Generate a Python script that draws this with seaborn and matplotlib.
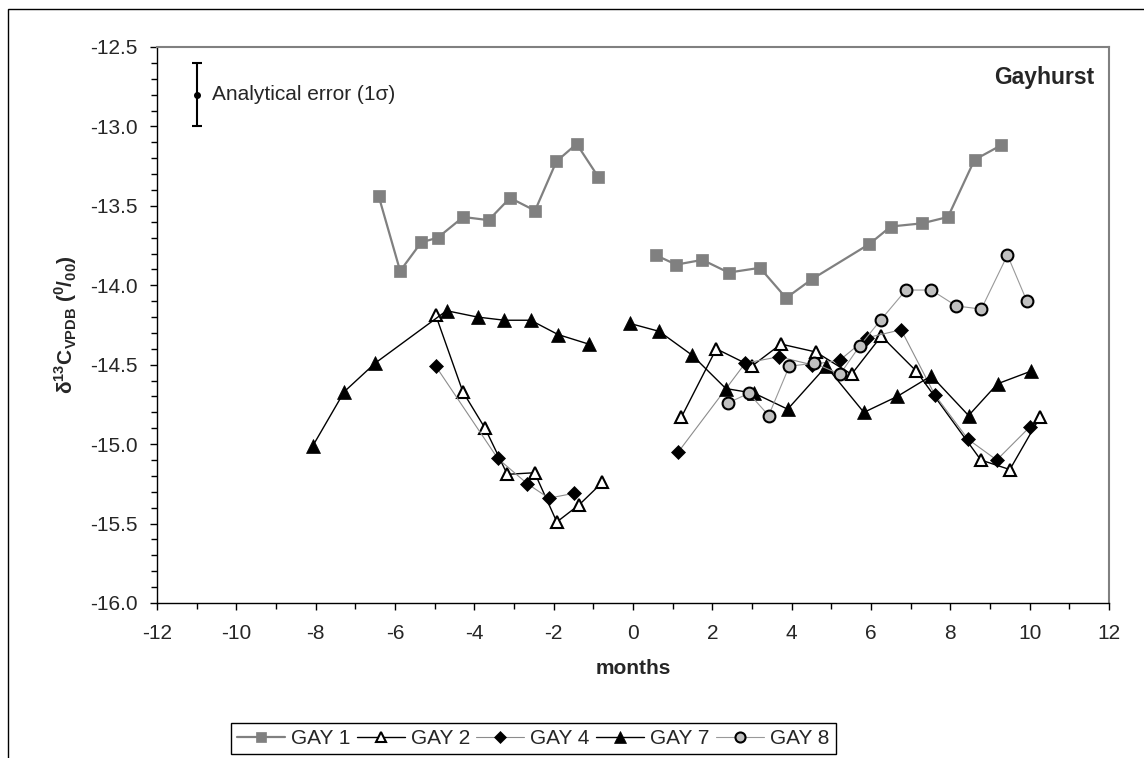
# -*- coding: utf-8 -*-
import numpy as np
import matplotlib
matplotlib.use('Agg')
import matplotlib.pyplot as plt
from matplotlib.patches import Rectangle
from matplotlib.ticker import MultipleLocator, FormatStrFormatter
import seaborn as sns

nan = np.nan

# GAY 1
gay1_x = [-6.41, -5.87, -5.34, -4.92, -4.28, -3.64, -3.10, -2.47, -1.93, -1.42, -0.87, nan,
          0.57, 1.09, 1.75, 2.41, 3.20, 3.86, 4.52, 5.96, 6.50, 7.29, 7.94, 8.61, 9.27]
gay1_y = [-13.44, -13.91, -13.73, -13.70, -13.57, -13.59, -13.45, -13.53, -13.22, -13.11, -13.32, nan,
          -13.81, -13.87, -13.84, -13.92, -13.89, -14.08, -13.96, -13.74, -13.63, -13.61, -13.57, -13.21, -13.12]
# GAY 2
gay2_x = [-4.97, -4.29, -3.73, -3.17, -2.48, -1.92, -1.35, -0.77, nan,
          1.22, 2.10, 2.99, 3.73, 4.61, 5.51, 6.26, 7.14, 8.77, 9.50, 10.26]
gay2_y = [-14.19, -14.67, -14.90, -15.19, -15.18, -15.49, -15.38, -15.24, nan,
          -14.83, -14.40, -14.51, -14.37, -14.42, -14.56, -14.32, -14.54, -15.10, -15.16, -14.83]
# GAY 4
gay4_x = [-4.97, -3.41, -2.66, -2.12, -1.50, nan,
          1.14, 2.83, 3.68, 4.51, 5.22, 5.90, 6.76, 7.61, 8.45, 9.17, 10.01]
gay4_y = [-14.51, -15.09, -15.25, -15.34, -15.31, nan,
          -15.05, -14.49, -14.45, -14.50, -14.47, -14.33, -14.28, -14.69, -14.97, -15.10, -14.89]
# GAY 7
gay7_x = [-8.07, -7.28, -6.50, -4.70, -3.92, -3.24, -2.58, -1.89, -1.12, nan,
          -0.08, 0.66, 1.49, 2.34, 3.06, 3.90, 4.87, 5.82, 6.66, 7.52, 8.46, 9.19, 10.04]
gay7_y = [-15.01, -14.67, -14.49, -14.16, -14.20, -14.22, -14.22, -14.31, -14.37, nan,
          -14.24, -14.29, -14.44, -14.65, -14.68, -14.78, -14.51, -14.80, -14.70, -14.57, -14.82, -14.62, -14.54]
# GAY 8
gay8_x = [2.40, 2.92, 3.42, 3.94, 4.57, 5.22, 5.72, 6.24, 6.88, 7.52, 8.15, 8.78, 9.44, 9.93]
gay8_y = [-14.74, -14.68, -14.82, -14.51, -14.49, -14.56, -14.38, -14.22, -14.03, -14.03, -14.13, -14.15, -13.81, -14.10]

series = [
    ('GAY 1', gay1_x, gay1_y, dict(color='#808080', lw=1.6, marker='s', ms=8,
                                   mfc='#808080', mec='#808080', mew=0.5)),
    ('GAY 2', gay2_x, gay2_y, dict(color='black', lw=1.0, marker='^', ms=9,
                                   mfc='white', mec='black', mew=1.5)),
    ('GAY 4', gay4_x, gay4_y, dict(color='#8c8c8c', lw=0.8, marker='D', ms=7.5,
                                   mfc='black', mec='black', mew=0.5)),
    ('GAY 7', gay7_x, gay7_y, dict(color='black', lw=1.0, marker='^', ms=9.5,
                                   mfc='black', mec='black', mew=0.5)),
    ('GAY 8', gay8_x, gay8_y, dict(color='#999999', lw=0.8, marker='o', ms=8.5,
                                   mfc='#c0c0c0', mec='black', mew=1.5)),
]

sns.set_style('ticks')
plt.rcParams['font.family'] = ['Liberation Sans', 'DejaVu Sans']
plt.rcParams['mathtext.fontset'] = 'custom'
plt.rcParams['mathtext.rm'] = 'Liberation Sans'
plt.rcParams['mathtext.bf'] = 'Liberation Sans:bold'
plt.rcParams['axes.unicode_minus'] = False

fig = plt.figure(figsize=(11.44, 7.58), dpi=100)
ax = fig.add_axes([157 / 1144, 1 - 603 / 758, (1109 - 157) / 1144, (603 - 47) / 758])

for name, xs, ys, st in series:
    xs = np.array(xs, dtype=float)
    ys = np.array(ys, dtype=float)
    breaks = np.where(np.isnan(xs))[0]
    starts = [0] + list(breaks + 1)
    ends = list(breaks) + [len(xs)]
    for k, (a, b) in enumerate(zip(starts, ends)):
        sns.lineplot(x=xs[a:b], y=ys[a:b], ax=ax, estimator=None, sort=False,
                     label=name if k == 0 else None,
                     color=st['color'], linewidth=st['lw'], marker=st['marker'],
                     markersize=st['ms'], markerfacecolor=st['mfc'],
                     markeredgecolor=st['mec'], markeredgewidth=st['mew'])

# analytical error bar
ax.errorbar([-11], [-12.8], yerr=[0.2], fmt='o', color='black', ms=4,
            capsize=3.5, elinewidth=1.5, capthick=1.5)
ax.text(-10.62, -12.8, 'Analytical error (1σ)', fontsize=15, va='center', ha='left')
ax.text(0.985, 0.945, 'Gayhurst', transform=ax.transAxes, fontsize=16.5,
        fontweight='bold', ha='right', va='center')

ax.set_xlim(-12, 12)
ax.set_ylim(-16, -12.5)
ax.xaxis.set_major_locator(MultipleLocator(2))
ax.xaxis.set_minor_locator(MultipleLocator(1))
ax.yaxis.set_major_locator(MultipleLocator(0.5))
ax.yaxis.set_minor_locator(MultipleLocator(0.1))
ax.yaxis.set_major_formatter(FormatStrFormatter('%.1f'))
ax.tick_params(which='major', direction='out', length=5, width=1, labelsize=15,
               color='black')
ax.tick_params(which='minor', direction='out', length=4, width=1, color='black')
ax.tick_params(axis='x', which='major', pad=10)
ax.tick_params(axis='y', which='major', pad=9)

for s in ['left', 'bottom']:
    ax.spines[s].set_color('black')
    ax.spines[s].set_linewidth(1.0)
for s in ['top', 'right']:
    ax.spines[s].set_color('#808080')
    ax.spines[s].set_linewidth(1.5)

ax.set_xlabel('months', fontsize=15, fontweight='bold', labelpad=12)
ax.set_ylabel(r'δ$^{\mathbf{13}}$C$_{\mathbf{VPDB}}$ ($^{\mathbf{0}}$/$_{\mathbf{00}}$)',
              fontsize=15, fontweight='bold', labelpad=8)

ax.get_legend().remove()
handles, labels = ax.get_legend_handles_labels()
leg = fig.legend(handles, labels, loc='center', bbox_to_anchor=(0.466, 0.0257), ncol=5,
                 fontsize=15, frameon=True, fancybox=False, edgecolor='black',
                 framealpha=1, handlelength=2.3, handletextpad=0.3, markerscale=0.85,
                 columnspacing=0.3, borderpad=0.3, borderaxespad=0)
leg.get_frame().set_linewidth(1.0)

# outer chart border (top and left visible)
fig.patches.append(Rectangle((8 / 1144, -0.1), 1.2, 1.1 - 9 / 758, transform=fig.transFigure,
                             fill=False, edgecolor='black', linewidth=1.0))

fig.savefig('out.png', dpi=100)
